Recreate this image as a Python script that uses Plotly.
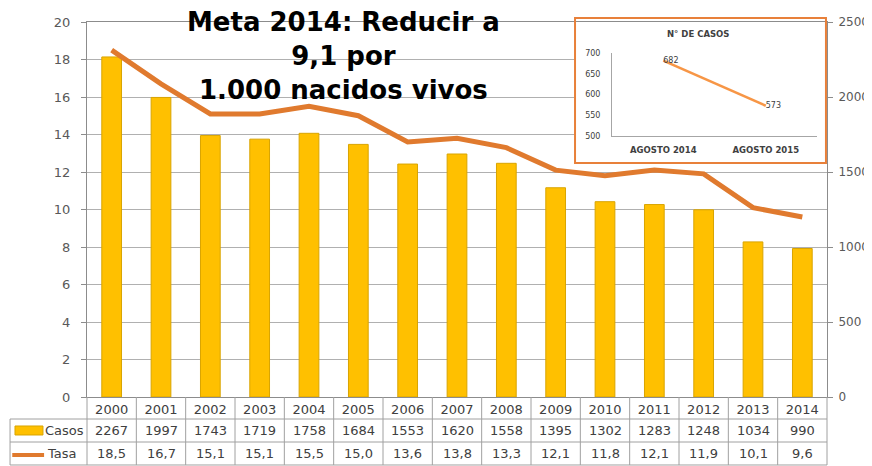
import plotly.graph_objects as go

# data
years = ["2000", "2001", "2002", "2003", "2004", "2005", "2006", "2007",
         "2008", "2009", "2010", "2011", "2012", "2013", "2014"]
casos = [2267, 1997, 1743, 1719, 1758, 1684, 1553, 1620, 1558, 1395,
         1302, 1283, 1248, 1034, 990]
tasa = [18.5, 16.7, 15.1, 15.1, 15.5, 15.0, 13.6, 13.8, 13.3, 12.1,
        11.8, 12.1, 11.9, 10.1, 9.6]
inset_cats = ["AGOSTO 2014", "AGOSTO 2015"]
inset_casos = [682, 573]

FONT = "DejaVu Sans"
TXT = "#404040"
GRID = "#B0B0B0"
AXIS = "#8C8C8C"
ORANGE = "#E07A2E"

fig = go.Figure()

# bars on the right axis (0-2500), line on the left axis (0-20)
fig.add_trace(go.Bar(x=years, y=casos, name="Casos", width=0.4,
                     marker=dict(color="#FFC000", line=dict(color="#D9A400", width=1)),
                     yaxis="y"))
fig.add_trace(go.Scatter(x=years, y=tasa, name="Tasa", mode="lines",
                         line=dict(color=ORANGE, width=5), yaxis="y2"))

# inset chart
fig.add_trace(go.Scatter(x=inset_cats, y=inset_casos, mode="lines+text",
                         text=[str(v) for v in inset_casos],
                         textposition="middle right",
                         textfont=dict(family=FONT, size=8, color=TXT),
                         line=dict(color="#F79646", width=2.5),
                         cliponaxis=False,
                         xaxis="x3", yaxis="y3"))

# page body adds an 8px offset, so the figure is 8px smaller than the window
fig.update_layout(
    width=864, height=458,
    margin=dict(l=79, r=45, t=14, b=69, autoexpand=False),
    paper_bgcolor="white", plot_bgcolor="white",
    showlegend=False,
    font=dict(family=FONT, size=13, color=TXT),
    xaxis=dict(type="category", range=[-0.5, 14.5], showline=True,
               linecolor=AXIS, mirror=True, ticks="", showgrid=False,
               automargin=False, tickfont=dict(size=13, color=TXT)),
    yaxis=dict(side="right", range=[0, 2500], dtick=500, showgrid=True,
               gridcolor=GRID, minor=dict(dtick=250, showgrid=True, gridcolor=GRID),
               showline=True, linecolor=AXIS, ticks="outside", ticklen=5,
               tickcolor=AXIS, tickfont=dict(size=12, color="#595959"),
               ticklabelstandoff=3, zeroline=False, automargin=False),
    yaxis2=dict(overlaying="y", side="left", range=[0, 20], dtick=2,
                showgrid=False, showline=True, linecolor=AXIS, ticks="outside",
                ticklen=5, tickcolor=AXIS, tickfont=dict(size=13, color="#595959"),
                ticklabelstandoff=8, zeroline=False, automargin=False),
    xaxis3=dict(domain=[0.7095, 0.9865], anchor="y3", type="category",
                range=[-0.5, 1.5], automargin=False,
                showline=True, linecolor="#A6A6A6", ticks="", showgrid=False,
                tickfont=dict(size=8.5, color=TXT, weight="bold"),
                ticklabelstandoff=6),
    yaxis3=dict(domain=[0.696, 0.917], anchor="x3", range=[500, 700], dtick=50,
                showline=True, linecolor="#A6A6A6", ticks="", showgrid=False,
                zeroline=False, automargin=False, tickfont=dict(size=8, color=TXT),
                ticklabelstandoff=9),
)

shapes = []
# white backdrop for the inset (hides main gridlines), orange frame
shapes.append(dict(type="rect", xref="x", yref="y", layer="between",
                   x0=9.39, x1=14.49, y0=1560, y1=2500,
                   fillcolor="white", line=dict(width=0)))
shapes.append(dict(type="rect", xref="paper", yref="paper", layer="above",
                   x0=0.6595, x1=0.9986, y0=0.624, y1=1.0107,
                   line=dict(color="#E8803A", width=2)))

# data table grid under the chart
tline = dict(color="#A0A0A0", width=1)
row_y = [-0.0587, -0.12, -0.1813]
for yy in row_y:
    shapes.append(dict(type="line", xref="paper", yref="paper",
                       x0=-0.104, x1=1, y0=yy, y1=yy, line=tline))
n = len(years)
for i in range(n + 1):
    shapes.append(dict(type="line", xref="paper", yref="paper",
                       x0=i / n, x1=i / n, y0=0, y1=row_y[-1], line=tline))
shapes.append(dict(type="line", xref="paper", yref="paper",
                   x0=-0.104, x1=-0.104, y0=row_y[0], y1=row_y[-1], line=tline))

# legend keys inside the table
shapes.append(dict(type="rect", xref="paper", yref="paper",
                   x0=-0.0973, x1=-0.0595, y0=-0.1013, y1=-0.0773,
                   fillcolor="#FFC000", line=dict(color="#D9A400", width=1)))
shapes.append(dict(type="line", xref="paper", yref="paper",
                   x0=-0.101, x1=-0.058, y0=-0.1547, y1=-0.1547,
                   line=dict(color=ORANGE, width=4)))

annotations = []
for i in range(n):
    annotations.append(dict(x=i, xref="x", y=-0.088, yref="paper",
                            yanchor="middle", text=str(casos[i]), showarrow=False,
                            font=dict(size=13, color=TXT)))
    annotations.append(dict(x=i, xref="x", y=-0.152, yref="paper",
                            yanchor="middle",
                            text=f"{tasa[i]:.1f}".replace(".", ","), showarrow=False,
                            font=dict(size=13, color=TXT)))
annotations.append(dict(x=-0.0595, y=-0.088, xref="paper", yref="paper",
                        xanchor="left", yanchor="middle", text="Casos",
                        showarrow=False, font=dict(size=13, color=TXT)))
annotations.append(dict(x=-0.0568, y=-0.152, xref="paper", yref="paper",
                        xanchor="left", yanchor="middle", text="Tasa",
                        showarrow=False, font=dict(size=13, color=TXT)))

# headline
annotations.append(dict(x=0.346, y=1.045, xref="paper", yref="paper",
                        xanchor="center", yanchor="top", showarrow=False,
                        text="Meta 2014: Reducir a<br>9,1 por<br>1.000 nacidos vivos",
                        font=dict(family=FONT, size=26, color="black", weight="bold")))
# inset title
annotations.append(dict(x=0.8257, y=0.968, xref="paper", yref="paper",
                        xanchor="center", yanchor="middle",
                        showarrow=False, text="N° DE CASOS",
                        font=dict(size=8.5, color=TXT, weight="bold")))

fig.update_layout(shapes=shapes, annotations=annotations)
fig.write_html("out.html")
